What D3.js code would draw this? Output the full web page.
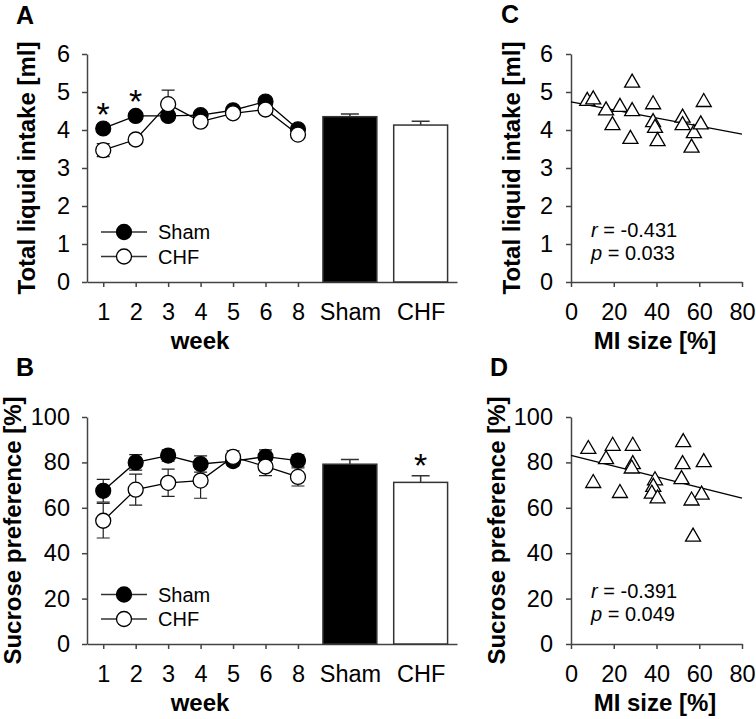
<!DOCTYPE html>
<html>
<head>
<meta charset="utf-8">
<script src="https://cdn.jsdelivr.net/npm/d3@7"></script>
<style>
  body { margin: 0; background: #fff; }
  svg text { font-family: Arial, "Liberation Sans", sans-serif; fill: #000; }
  .axis path, .axis line { stroke: #444; stroke-width: 1.5; }
  .axis text { font-size: 23.5px; }
  .lab { font-size: 24px; font-weight: bold; }
</style>
</head>
<body>
<div class="chart"></div>
<script>
// ---- data ----
var weeks = ["1", "2", "3", "4", "5", "6", "8"];
var groups = ["Sham", "CHF"];

// A: total liquid intake [ml]
var intakeSham = [4.04, 4.37, 4.37, 4.39, 4.52, 4.75, 4.02];
var intakeShamSE = [0.1, 0.1, 0.12, 0.1, 0.08, 0.08, 0.08];
var intakeCHF = [3.47, 3.75, 4.68, 4.22, 4.44, 4.54, 3.88];
var intakeCHFSE = [0.17, 0.12, 0.37, 0.1, 0.08, 0.1, 0.08];
var intakeMean = [4.35, 4.13];
var intakeMeanSE = [0.07, 0.1];
var intakeStars = [0, 1];          // week indexes marked with *

// B: sucrose preference [%]
var sucroseSham = [67.5, 80.0, 83.0, 79.3, 80.6, 82.5, 80.8];
var sucroseShamSE = [5, 3.4, 2.5, 3.6, 2, 3, 2.5];
var sucroseCHF = [54.3, 68.0, 71.0, 72.0, 82.4, 78.2, 73.6];
var sucroseCHFSE = [7.6, 6.8, 6, 7.8, 2.7, 4, 4];
var sucroseMean = [79.2, 71.2];
var sucroseMeanSE = [2.1, 2.9];
var sucroseStars = [1];            // group index marked with *

// C: intake vs MI size
var miC = [7.6, 10.4, 16.4, 19.4, 22.9, 28.6, 28.6, 27.8, 38.4, 38.4, 39.3, 40.5, 52.2, 52.2, 57.5, 56.4, 60.7, 62.1];
var intakeC = [4.82, 4.86, 4.57, 4.18, 4.66, 5.30, 4.55, 3.82, 4.73, 4.26, 4.11, 3.76, 4.38, 4.18, 3.97, 3.59, 4.20, 4.79];
var fitC = [4.74, -0.0106];        // intercept, slope
var statsC = ["-0.431", "0.033"];

// D: sucrose vs MI size
var miD = [8.1, 19.5, 28.9, 16.4, 28.9, 28.4, 10.4, 22.9, 39.3, 38.5, 37.8, 40.5, 52.5, 52.2, 51.7, 62.1, 61.1, 56.4, 57.1];
var sucroseD = [86.8, 88.2, 88.2, 82.3, 80.1, 78.2, 71.8, 67.4, 73.0, 70.1, 67.1, 65.0, 89.8, 80.1, 73.5, 81.0, 66.7, 64.1, 48.2];
var fitD = [83.1, -0.235];
var statsD = ["-0.391", "0.049"];

var svg = d3.select(".chart").append("svg")
  .attr("width", 756)
  .attr("height", 719);

// slot positions on the category axis: weeks 1..7, then the two bars
var barSlots = [8.6, 10.78];
var xCat = d3.scaleLinear().domain([0.5, 11.9]).range([87, 457]);
var barW = xCat(1.66) - xCat(0);

function timePanel(opt) {
  var y = d3.scaleLinear().domain(opt.domain).range(opt.range);
  var g = svg.append("g");

  // y axis
  g.append("g").attr("class", "axis")
    .attr("transform", "translate(87,0)")
    .call(d3.axisLeft(y).tickValues(opt.ticks).tickFormat(d3.format("d"))
      .tickSize(5).tickSizeOuter(0).tickPadding(12));

  // x axis
  var slots = weeks.map((w, i) => i + 1).concat(barSlots);
  var labels = weeks.concat(groups);
  var xa = g.append("g").attr("class", "axis")
    .attr("transform", `translate(0,${opt.range[0]})`)
    .call(d3.axisBottom(xCat).tickValues(slots).tickSize(5).tickSizeOuter(0).tickPadding(16)
      .tickFormat((d, i) => labels[i]));
  xa.selectAll(".tick line").filter((d, i) => i >= weeks.length).remove();

  // bars
  var means = opt.mean;
  g.selectAll(".ebar").data(means).enter().append("path")
    .attr("d", (d, i) => {
      var cx = xCat(barSlots[i]), top = y(d), e = y(d + opt.meanSE[i]);
      return `M${cx},${top}V${e}M${cx - 9},${e}H${cx + 9}`;
    })
    .attr("stroke", "#333").attr("stroke-width", 1.5).attr("fill", "none");
  g.selectAll(".bar").data(means).enter().append("rect")
    .attr("x", (d, i) => xCat(barSlots[i]) - barW / 2)
    .attr("width", barW)
    .attr("y", d => y(d))
    .attr("height", d => y(0) - y(d))
    .attr("fill", (d, i) => i === 0 ? "#000" : "#fff")
    .attr("stroke", "#333").attr("stroke-width", 1.5);

  // error bars for weekly points
  [[opt.sham, opt.shamSE], [opt.chf, opt.chfSE]].forEach(function(s) {
    g.selectAll(null).data(s[0]).enter().append("path")
      .attr("d", (d, i) => {
        var cx = xCat(i + 1), lo = y(d - s[1][i]), hi = y(d + s[1][i]);
        return `M${cx},${lo}V${hi}M${cx - 6.5},${hi}H${cx + 6.5}M${cx - 6.5},${lo}H${cx + 6.5}`;
      })
      .attr("stroke", "#222").attr("stroke-width", 1.2).attr("fill", "none");
  });

  // lines
  var line = d3.line().x((d, i) => xCat(i + 1)).y(d => y(d));
  g.append("path").datum(opt.sham).attr("d", line)
    .attr("fill", "none").attr("stroke", "#000").attr("stroke-width", 1.3);
  g.append("path").datum(opt.chf).attr("d", line)
    .attr("fill", "none").attr("stroke", "#000").attr("stroke-width", 1.3);

  // markers
  g.selectAll(null).data(opt.sham).enter().append("circle")
    .attr("cx", (d, i) => xCat(i + 1)).attr("cy", d => y(d)).attr("r", 7.5)
    .attr("fill", "#000").attr("stroke", "#000").attr("stroke-width", 1.2);
  g.selectAll(null).data(opt.chf).enter().append("circle")
    .attr("cx", (d, i) => xCat(i + 1)).attr("cy", d => y(d)).attr("r", 7.5)
    .attr("fill", "#fff").attr("stroke", "#000").attr("stroke-width", 1.3);

  // asterisks
  (opt.weekStars || []).forEach(function(i) {
    var top = y(opt.sham[i] + opt.shamSE[i]);
    g.append("text").attr("x", xCat(i + 1)).attr("y", top + 1)
      .attr("text-anchor", "middle").style("font-size", "34px").text("*");
  });
  (opt.barStars || []).forEach(function(i) {
    var top = y(opt.mean[i] + opt.meanSE[i]);
    g.append("text").attr("x", xCat(barSlots[i])).attr("y", top + 1)
      .attr("text-anchor", "middle").style("font-size", "34px").text("*");
  });

  // legend
  [["Sham", "#000"], ["CHF", "#fff"]].forEach(function(l, k) {
    var ly = opt.legendY + k * 24.5;
    g.append("line").attr("x1", 101).attr("x2", 147).attr("y1", ly).attr("y2", ly)
      .attr("stroke", "#333").attr("stroke-width", 1.3);
    g.append("circle").attr("cx", 124).attr("cy", ly).attr("r", 7.5)
      .attr("fill", l[1]).attr("stroke", "#000").attr("stroke-width", 1.3);
    g.append("text").attr("x", 158).attr("y", ly + 7).style("font-size", "20px").text(l[0]);
  });

  // labels
  var mid = (opt.range[0] + opt.range[1]) / 2;
  g.append("text").attr("class", "lab")
    .attr("transform", `translate(${opt.ylabX},${mid}) rotate(-90)`)
    .attr("text-anchor", "middle").text(opt.ylabel);
  g.append("text").attr("class", "lab").attr("x", 200).attr("y", opt.range[0] + 67)
    .attr("text-anchor", "middle").text("week");
  g.append("text").attr("class", "lab").attr("x", 16).attr("y", opt.panelY)
    .style("font-size", "25px").text(opt.panel);
}

function scatterPanel(opt) {
  var x = d3.scaleLinear().domain([0, 80]).range([571, 742]);
  var y = d3.scaleLinear().domain(opt.domain).range(opt.range);
  var g = svg.append("g");

  g.append("g").attr("class", "axis")
    .attr("transform", "translate(571,0)")
    .call(d3.axisLeft(y).tickValues(opt.ticks).tickFormat(d3.format("d"))
      .tickSize(5).tickSizeOuter(0).tickPadding(13));
  g.append("g").attr("class", "axis")
    .attr("transform", `translate(0,${opt.range[0]})`)
    .call(d3.axisBottom(x).tickValues([0, 20, 40, 60, 80]).tickSize(5).tickSizeOuter(0).tickPadding(16));

  // regression line
  g.append("line")
    .attr("x1", x(0)).attr("y1", y(opt.fit[0]))
    .attr("x2", x(80)).attr("y2", y(opt.fit[0] + opt.fit[1] * 80))
    .attr("stroke", "#000").attr("stroke-width", 1.3);

  var tri = "M0,-6.5L7.5,6.5L-7.5,6.5Z";
  g.selectAll(null).data(opt.xs).enter().append("path")
    .attr("d", tri)
    .attr("transform", (d, i) => `translate(${x(d)},${y(opt.ys[i])})`)
    .attr("fill", "#fff").attr("stroke", "#000").attr("stroke-width", 1.3);

  var t1 = g.append("text").attr("x", 591).attr("y", opt.statY).style("font-size", "20px");
  t1.append("tspan").style("font-style", "italic").text("r");
  t1.append("tspan").text(" = " + opt.stats[0]);
  var t2 = g.append("text").attr("x", 591).attr("y", opt.statY + 22.5).style("font-size", "20px");
  t2.append("tspan").style("font-style", "italic").text("p");
  t2.append("tspan").text(" = " + opt.stats[1]);

  var mid = (opt.range[0] + opt.range[1]) / 2;
  g.append("text").attr("class", "lab")
    .attr("transform", `translate(${opt.ylabX},${mid}) rotate(-90)`)
    .attr("text-anchor", "middle").text(opt.ylabel);
  g.append("text").attr("class", "lab").attr("x", 655).attr("y", opt.range[0] + 67)
    .attr("text-anchor", "middle").text("MI size [%]");
  g.append("text").attr("class", "lab").attr("x", opt.panelX).attr("y", opt.panelY)
    .style("font-size", "25px").text(opt.panel);
}

timePanel({
  domain: [0, 6], range: [282, 54], ticks: [0, 1, 2, 3, 4, 5, 6],
  sham: intakeSham, shamSE: intakeShamSE, chf: intakeCHF, chfSE: intakeCHFSE,
  mean: intakeMean, meanSE: intakeMeanSE, weekStars: intakeStars,
  legendY: 232, ylabel: "Total liquid intake [ml]", ylabX: 35, panel: "A", panelY: 24
});

timePanel({
  domain: [0, 100], range: [644, 417], ticks: [0, 20, 40, 60, 80, 100],
  sham: sucroseSham, shamSE: sucroseShamSE, chf: sucroseCHF, chfSE: sucroseCHFSE,
  mean: sucroseMean, meanSE: sucroseMeanSE, barStars: sucroseStars,
  legendY: 594.5, ylabel: "Sucrose preference [%]", ylabX: 21, panel: "B", panelY: 376
});

scatterPanel({
  domain: [0, 6], range: [282, 54], ticks: [0, 1, 2, 3, 4, 5, 6],
  xs: miC, ys: intakeC, fit: fitC, stats: statsC, statY: 237,
  ylabel: "Total liquid intake [ml]", ylabX: 520, panel: "C", panelX: 501, panelY: 23
});

scatterPanel({
  domain: [0, 100], range: [644, 417], ticks: [0, 20, 40, 60, 80, 100],
  xs: miD, ys: sucroseD, fit: fitD, stats: statsD, statY: 598,
  ylabel: "Sucrose preference [%]", ylabX: 505, panel: "D", panelX: 490, panelY: 376
});
</script>
</body>
</html>
